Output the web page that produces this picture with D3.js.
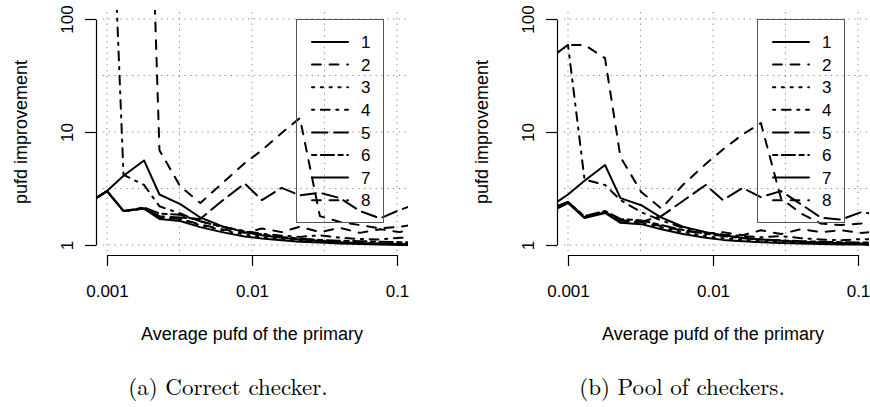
<!DOCTYPE html>
<html>
<head>
<meta charset="utf-8">
<script src="https://cdn.jsdelivr.net/npm/d3@7/dist/d3.min.js"></script>
<style>
  html, body { margin: 0; padding: 0; background: #fff; }
  svg { display: block; font-family: "Liberation Sans", Arial, Helvetica, sans-serif; }
</style>
</head>
<body>
<svg id="chart" width="870" height="407"></svg>
<script>
// average pufd of the primary (x, shared by every series)
const pufd = [0.00084, 0.001, 0.0013, 0.0018, 0.0023, 0.0032, 0.0044, 0.0062, 0.0089,
  0.0117, 0.016, 0.0214, 0.0294, 0.0404, 0.0555, 0.0763, 0.105, 0.123];

const seriesNames = ['1', '2', '3', '4', '5', '6', '7', '8'];

// (a) Correct checker
const correctChecker = [
  [2.6, 3.0, 2.0, 2.1, 1.7, 1.63, 1.44, 1.3, 1.19, 1.14, 1.1, 1.07, 1.05, 1.03, 1.02, 1.01, 1.0, 1.0],
  [150000, 150000, 150000, 130000, 6.9, 3.3, 2.35, 3.5, 5.3, 6.9, 9.8, 13.3, 1.8, 1.6, 1.5, 1.4, 1.45, 1.5],
  [2.6, 3.0, 2.0, 2.1, 1.75, 1.7, 1.5, 1.35, 1.24, 1.18, 1.13, 1.1, 1.07, 1.05, 1.04, 1.03, 1.02, 1.02],
  [9000, 18000, 4.17, 3.4, 2.2, 1.9, 1.62, 1.45, 1.33, 1.26, 1.21, 1.18, 1.22, 1.16, 1.13, 1.12, 1.16, 1.15],
  [2.6, 3.0, 2.0, 2.1, 1.8, 1.75, 1.7, 2.45, 3.5, 2.5, 3.2, 2.75, 2.9, 2.6, 2.0, 1.72, 2.05, 2.2],
  [2.6, 3.0, 2.0, 2.15, 1.9, 1.85, 1.62, 1.45, 1.32, 1.24, 1.18, 1.14, 1.11, 1.09, 1.08, 1.07, 1.06, 1.06],
  [2.6, 3.0, 4.1, 5.6, 2.8, 2.3, 1.75, 1.47, 1.3, 1.22, 1.16, 1.12, 1.09, 1.06, 1.04, 1.03, 1.02, 1.02],
  [2.6, 3.0, 2.0, 2.1, 1.75, 1.7, 1.52, 1.38, 1.28, 1.4, 1.3, 1.45, 1.3, 1.42, 1.28, 1.38, 1.3, 1.4]
];

// (b) Pool of checkers
const poolOfCheckers = [
  [2.1, 2.35, 1.73, 1.92, 1.57, 1.53, 1.38, 1.25, 1.16, 1.11, 1.08, 1.06, 1.04, 1.03, 1.02, 1.01, 1.01, 1.0],
  [50, 59, 59, 45, 6.0, 2.95, 2.1, 3.4, 5.2, 7.0, 9.5, 12, 2.6, 1.9, 1.55, 1.5, 1.55, 1.6],
  [2.2, 2.4, 1.75, 1.95, 1.62, 1.58, 1.43, 1.3, 1.2, 1.15, 1.11, 1.08, 1.06, 1.05, 1.04, 1.03, 1.02, 1.02],
  [50, 59, 3.8, 3.4, 2.5, 1.95, 1.65, 1.42, 1.3, 1.24, 1.2, 1.17, 1.2, 1.15, 1.12, 1.1, 1.13, 1.12],
  [2.2, 2.4, 1.75, 1.95, 1.65, 1.6, 1.8, 2.45, 3.4, 2.5, 3.2, 2.65, 3.0, 2.3, 1.75, 1.68, 1.95, 1.9],
  [2.2, 2.4, 1.8, 2.0, 1.7, 1.65, 1.5, 1.36, 1.26, 1.2, 1.15, 1.12, 1.1, 1.08, 1.07, 1.06, 1.05, 1.05],
  [2.4, 2.8, 3.7, 5.1, 2.6, 2.25, 1.75, 1.45, 1.3, 1.22, 1.16, 1.12, 1.09, 1.07, 1.05, 1.04, 1.03, 1.03],
  [2.2, 2.4, 1.75, 1.95, 1.65, 1.6, 1.47, 1.34, 1.26, 1.3, 1.22, 1.35, 1.25, 1.38, 1.3, 1.35, 1.28, 1.3]
];

const xTicks = [0.001, 0.01, 0.1];
const xTickLabels = ['0.001', '0.01', '0.1'];
const yTicks = [1, 10, 100];
const yTickLabels = ['1', '10', '100'];
const xGrid = [0.001, 0.00316, 0.01, 0.0316, 0.1];
const yGrid = [1, 3.16, 10, 31.6, 100];

// R line types, in units of line width
const LTY = ['solid', 'dashed', 'dotted', 'dotdash', 'longdash', 'twodash', 'solid', 'dashed'];
const DASHES = {
  solid: null,
  dashed: [4, 4],
  dotted: [1, 3],
  dotdash: [1, 3, 4, 3],
  longdash: [7, 3],
  twodash: [2, 2, 6, 2]
};
const DASH_UNIT = 2.2;
const LINE_W = 2;

const PLOT = { left: 96, right: 408, top: 10, bottom: 254 };
const FONT_TICK = 17;
const FONT_TITLE = 18;

const dashArray = type => DASHES[type] ? DASHES[type].map(v => v * DASH_UNIT).join(' ') : null;

const svg = d3.select('#chart');

/**
 * One panel: grid, series, axes, legend, caption
 */
function renderPanel(opts) {
  const g = svg.append('g').attr('transform', `translate(${opts.dx},0)`);

  const x = d3.scaleLog().domain([0.001, 0.1]).range([107, 397]);
  const y = d3.scaleLog().domain([1, 100]).range([245, 19]);

  const clipId = `clip-${opts.id}`;
  g.append('clipPath').attr('id', clipId)
    .append('rect')
    .attr('x', PLOT.left)
    .attr('y', PLOT.top)
    .attr('width', PLOT.right - PLOT.left)
    .attr('height', PLOT.bottom - PLOT.top);

  // dotted grid at half decades
  const gridG = g.append('g').attr('class', 'grid')
    .attr('stroke', '#8a8a8a')
    .attr('stroke-width', 1)
    .attr('stroke-dasharray', '1.3 4.5');

  gridG.selectAll('line.gx')
    .data(xGrid)
    .join('line')
    .attr('class', 'gx')
    .attr('x1', d => x(d)).attr('x2', d => x(d))
    .attr('y1', PLOT.top + 2).attr('y2', PLOT.bottom - 1);

  gridG.selectAll('line.gy')
    .data(yGrid)
    .join('line')
    .attr('class', 'gy')
    .attr('x1', PLOT.left + 7).attr('x2', PLOT.right)
    .attr('y1', d => y(d)).attr('y2', d => y(d));

  // series
  const line = d3.line()
    .defined(d => d[1] != null)
    .x(d => x(d[0]))
    .y(d => y(d[1]));

  g.append('g').attr('class', 'series')
    .attr('clip-path', `url(#${clipId})`)
    .selectAll('path')
    .data(opts.series)
    .join('path')
    .attr('d', s => line(pufd.map((p, i) => [p, s[i]])))
    .attr('fill', 'none')
    .attr('stroke', '#000')
    .attr('stroke-width', LINE_W)
    .attr('stroke-linecap', 'round')
    .attr('stroke-linejoin', 'round')
    .attr('stroke-dasharray', (s, i) => dashArray(LTY[i]));

  renderAxes(g, x, y);
  renderLegend(g);

  svg.append('text')
    .attr('x', opts.captionX)
    .attr('y', 395)
    .attr('text-anchor', 'middle')
    .style('font-family', '"Latin Modern Roman", "CMU Serif", "DejaVu Serif", serif')
    .style('font-size', '23px')
    .text(opts.caption);
}

/**
 * R style axes: domain spans the ticks only
 */
function renderAxes(g, x, y) {
  const xAxis = g.append('g')
    .attr('transform', `translate(0,${PLOT.bottom + 1})`)
    .call(d3.axisBottom(x)
      .tickValues(xTicks)
      .tickFormat((d, i) => xTickLabels[i])
      .tickSize(11)
      .tickSizeOuter(0)
      .tickPadding(19));

  const yAxis = g.append('g')
    .attr('transform', `translate(${PLOT.left},0)`)
    .call(d3.axisLeft(y)
      .tickValues(yTicks)
      .tickFormat((d, i) => yTickLabels[i])
      .tickSize(11)
      .tickSizeOuter(0));

  [xAxis, yAxis].forEach(a => {
    a.attr('font-family', null).attr('font-size', null);
    a.selectAll('path, line').attr('stroke', '#000').attr('stroke-width', 1.2);
    a.selectAll('text').style('font-size', `${FONT_TICK}px`).attr('fill', '#000');
  });

  // labels parallel to the y axis
  yAxis.selectAll('text')
    .attr('x', null)
    .attr('dy', null)
    .attr('text-anchor', 'middle')
    .attr('transform', 'translate(-23,0) rotate(-90)');

  g.append('text')
    .attr('x', 252)
    .attr('y', 340)
    .attr('text-anchor', 'middle')
    .style('font-size', `${FONT_TITLE}px`)
    .text('Average pufd of the primary');

  g.append('text')
    .attr('transform', `translate(27,${(y(1) + y(100)) / 2}) rotate(-90)`)
    .attr('text-anchor', 'middle')
    .style('font-size', `${FONT_TITLE}px`)
    .text('pufd improvement');
}

/**
 * Legend box, no fill (grid and lines stay visible)
 */
function renderLegend(g) {
  const lg = g.append('g').attr('class', 'legend');
  const rowH = 22.6;

  lg.append('rect')
    .attr('x', 296.5).attr('y', 19.5)
    .attr('width', 87).attr('height', 203)
    .attr('fill', 'none')
    .attr('stroke', '#555')
    .attr('stroke-width', 1);

  const row = lg.selectAll('g.row')
    .data(seriesNames)
    .join('g')
    .attr('class', 'row')
    .attr('transform', (d, i) => `translate(0,${42 + i * rowH})`);

  row.append('line')
    .attr('x1', 312).attr('x2', 348)
    .attr('stroke', '#000')
    .attr('stroke-width', LINE_W)
    .attr('stroke-linecap', 'round')
    .attr('stroke-dasharray', (d, i) => dashArray(LTY[i]));

  row.append('text')
    .attr('x', 361)
    .attr('dy', '0.36em')
    .style('font-size', `${FONT_TICK}px`)
    .text(d => d);
}

renderPanel({ id: 'a', dx: 0, series: correctChecker, caption: '(a) Correct checker.', captionX: 228 });
renderPanel({ id: 'b', dx: 461, series: poolOfCheckers, caption: '(b) Pool of checkers.', captionX: 682 });
</script>
</body>
</html>
